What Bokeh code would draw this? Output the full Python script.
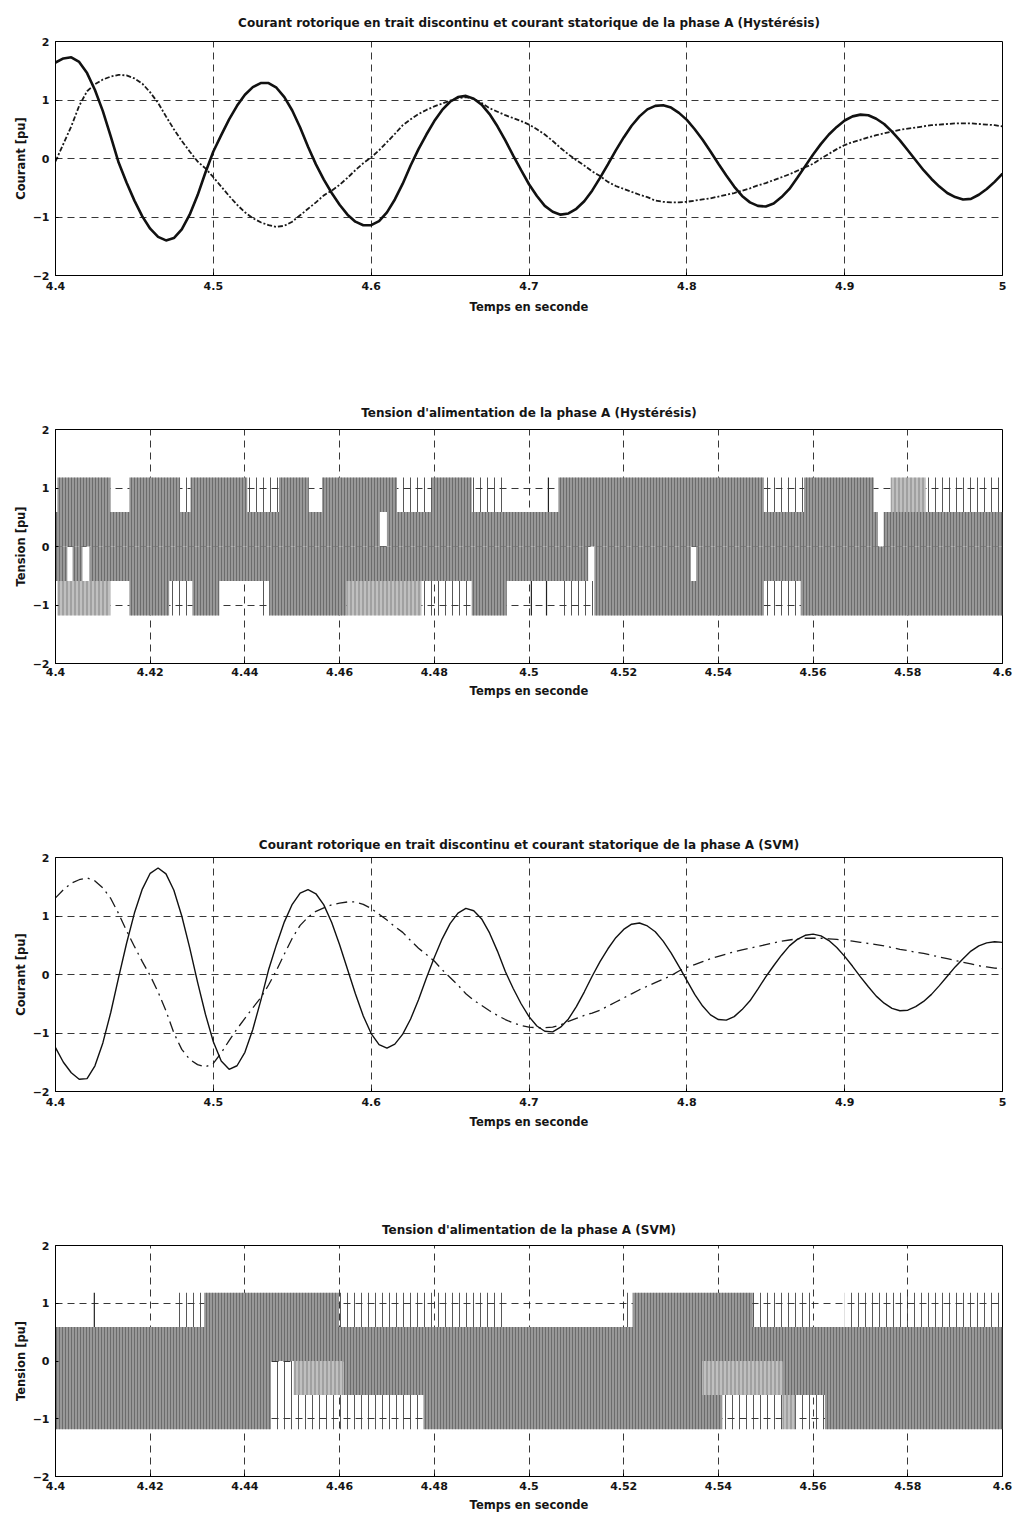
from bokeh.plotting import figure
from bokeh.layouts import column
from bokeh.models import FixedTicker, Range1d
from bokeh.embed import file_html
from bokeh.resources import INLINE

# ------------------------------------------------------------------ data
# sampling instants of the current traces (s)
t_courant = [
    4.400, 4.405, 4.410, 4.415, 4.420, 4.425, 4.430, 4.435, 4.440, 4.445,
    4.450, 4.455, 4.460, 4.465, 4.470, 4.475, 4.480, 4.485, 4.490, 4.495,
    4.500, 4.505, 4.510, 4.515, 4.520, 4.525, 4.530, 4.535, 4.540, 4.545,
    4.550, 4.555, 4.560, 4.565, 4.570, 4.575, 4.580, 4.585, 4.590, 4.595,
    4.600, 4.605, 4.610, 4.615, 4.620, 4.625, 4.630, 4.635, 4.640, 4.645,
    4.650, 4.655, 4.660, 4.665, 4.670, 4.675, 4.680, 4.685, 4.690, 4.695,
    4.700, 4.705, 4.710, 4.715, 4.720, 4.725, 4.730, 4.735, 4.740, 4.745,
    4.750, 4.755, 4.760, 4.765, 4.770, 4.775, 4.780, 4.785, 4.790, 4.795,
    4.800, 4.805, 4.810, 4.815, 4.820, 4.825, 4.830, 4.835, 4.840, 4.845,
    4.850, 4.855, 4.860, 4.865, 4.870, 4.875, 4.880, 4.885, 4.890, 4.895,
    4.900, 4.905, 4.910, 4.915, 4.920, 4.925, 4.930, 4.935, 4.940, 4.945,
    4.950, 4.955, 4.960, 4.965, 4.970, 4.975, 4.980, 4.985, 4.990, 4.995,
    5.000]

# Hysteresis: stator current (solid) and rotor current (dash-dot), pu
hyst_stator = [
    1.64, 1.71, 1.73, 1.65, 1.46, 1.17, 0.81, 0.38, -0.07, -0.41,
    -0.72, -0.99, -1.20, -1.34, -1.40, -1.36, -1.21, -0.96, -0.63, -0.24,
    0.12, 0.40, 0.67, 0.90, 1.09, 1.22, 1.29, 1.29, 1.21, 1.05,
    0.82, 0.53, 0.20, -0.10, -0.36, -0.59, -0.79, -0.96, -1.08, -1.14,
    -1.14, -1.07, -0.92, -0.70, -0.43, -0.12, 0.16, 0.41, 0.64, 0.83,
    0.97, 1.05, 1.07, 1.02, 0.92, 0.76, 0.55, 0.31, 0.05, -0.20,
    -0.44, -0.64, -0.81, -0.91, -0.96, -0.94, -0.86, -0.73, -0.55, -0.33,
    -0.10, 0.14, 0.36, 0.56, 0.72, 0.84, 0.90, 0.91, 0.87, 0.78,
    0.66, 0.50, 0.32, 0.12, -0.09, -0.29, -0.48, -0.64, -0.75, -0.81,
    -0.82, -0.77, -0.66, -0.52, -0.33, -0.13, 0.07, 0.25, 0.41, 0.54,
    0.65, 0.72, 0.75, 0.74, 0.68, 0.59, 0.46, 0.31, 0.14, -0.03,
    -0.20, -0.35, -0.48, -0.59, -0.66, -0.70, -0.69, -0.62, -0.52, -0.40,
    -0.26]
hyst_rotor = [
    -0.05, 0.25, 0.55, 0.90, 1.15, 1.27, 1.35, 1.40, 1.43, 1.42,
    1.37, 1.28, 1.13, 0.95, 0.72, 0.50, 0.30, 0.12, -0.05, -0.17,
    -0.32, -0.48, -0.64, -0.79, -0.92, -1.02, -1.09, -1.14, -1.17, -1.15,
    -1.08, -0.97, -0.86, -0.75, -0.63, -0.55, -0.45, -0.33, -0.20, -0.08,
    0.02, 0.14, 0.28, 0.42, 0.57, 0.67, 0.76, 0.83, 0.89, 0.94,
    0.99, 1.03, 1.05, 1.02, 0.95, 0.86, 0.80, 0.74, 0.69, 0.64,
    0.58, 0.50, 0.41, 0.30, 0.18, 0.07, -0.03, -0.12, -0.22, -0.30,
    -0.40, -0.47, -0.52, -0.57, -0.62, -0.66, -0.72, -0.74, -0.75, -0.75,
    -0.74, -0.72, -0.70, -0.68, -0.65, -0.62, -0.59, -0.55, -0.51, -0.46,
    -0.42, -0.37, -0.32, -0.27, -0.21, -0.15, -0.09, 0.00, 0.08, 0.16,
    0.23, 0.28, 0.32, 0.36, 0.40, 0.43, 0.46, 0.49, 0.51, 0.53,
    0.55, 0.57, 0.58, 0.59, 0.60, 0.60, 0.60, 0.59, 0.58, 0.57,
    0.55]

# SVM: stator current (solid) and rotor current (dash-dot), pu
svm_stator = [
    -1.25, -1.50, -1.68, -1.79, -1.78, -1.56, -1.17, -0.65, -0.05, 0.53,
    1.05, 1.46, 1.73, 1.82, 1.72, 1.44, 1.00, 0.46, -0.13, -0.68,
    -1.15, -1.48, -1.62, -1.56, -1.33, -0.94, -0.45, 0.08, 0.51, 0.90,
    1.20, 1.39, 1.45, 1.38, 1.19, 0.89, 0.51, 0.09, -0.33, -0.71,
    -1.01, -1.20, -1.26, -1.19, -1.02, -0.76, -0.43, -0.06, 0.29, 0.61,
    0.87, 1.05, 1.13, 1.09, 0.95, 0.71, 0.40, 0.05, -0.24, -0.50,
    -0.72, -0.88, -0.97, -0.98, -0.90, -0.76, -0.55, -0.30, -0.03, 0.22,
    0.44, 0.63, 0.77, 0.86, 0.88, 0.83, 0.73, 0.57, 0.37, 0.14,
    -0.10, -0.34, -0.54, -0.69, -0.77, -0.78, -0.72, -0.60, -0.45, -0.25,
    -0.04, 0.15, 0.33, 0.49, 0.60, 0.67, 0.69, 0.66, 0.58, 0.46,
    0.31, 0.14, -0.04, -0.21, -0.37, -0.49, -0.58, -0.62, -0.61, -0.55,
    -0.46, -0.34, -0.19, -0.03, 0.13, 0.27, 0.40, 0.49, 0.54, 0.56,
    0.55]
svm_rotor = [
    1.31, 1.45, 1.56, 1.62, 1.65, 1.60, 1.48, 1.30, 1.04, 0.75,
    0.48, 0.22, -0.02, -0.30, -0.62, -1.00, -1.28, -1.45, -1.54, -1.58,
    -1.52, -1.34, -1.13, -0.93, -0.75, -0.57, -0.40, -0.18, 0.07, 0.35,
    0.62, 0.84, 0.98, 1.08, 1.14, 1.19, 1.22, 1.24, 1.24, 1.20,
    1.13, 1.03, 0.93, 0.82, 0.72, 0.58, 0.45, 0.34, 0.23, 0.08,
    -0.05, -0.18, -0.33, -0.44, -0.53, -0.62, -0.70, -0.77, -0.83, -0.87,
    -0.90, -0.91, -0.91, -0.90, -0.86, -0.80, -0.75, -0.70, -0.66, -0.61,
    -0.54, -0.47, -0.40, -0.33, -0.26, -0.20, -0.14, -0.08, -0.02, 0.06,
    0.12, 0.17, 0.22, 0.27, 0.31, 0.35, 0.39, 0.42, 0.45, 0.48,
    0.51, 0.54, 0.57, 0.59, 0.61, 0.62, 0.62, 0.62, 0.61, 0.60,
    0.59, 0.57, 0.55, 0.53, 0.51, 0.49, 0.46, 0.43, 0.41, 0.38,
    0.36, 0.33, 0.30, 0.27, 0.24, 0.21, 0.18, 0.15, 0.13, 0.11,
    0.10]

# inverter output levels (pu)
v_levels = [-1.18, -0.59, 0.0, 0.59, 1.18]

# Hysteresis supply voltage: time spans where the trace switches inside each band
# band "haut" = 0.59..1.18, "pos" = 0..0.59, "neg" = -0.59..0, "bas" = -1.18..-0.59
hyst_haut_dense = [(4.4004, 4.4116), (4.4156, 4.4263), (4.4285, 4.4405), (4.4472, 4.4535),
                   (4.4563, 4.4721), (4.4795, 4.4879), (4.5062, 4.5496), (4.5581, 4.5728)]
hyst_haut_medium = [(4.5764, 4.5838)]
hyst_haut_sparse = [(4.4263, 4.4285), (4.4405, 4.4472), (4.4721, 4.4795), (4.4879, 4.4948),
                    (4.5496, 4.5581), (4.5838, 4.5998)]
hyst_haut_pulses = [4.5041]
hyst_pos_dense = [(4.4000, 4.4685), (4.4700, 4.5737), (4.5749, 4.6000)]
hyst_neg_dense = [(4.4000, 4.4025), (4.4036, 4.4057), (4.4072, 4.5125), (4.5138, 4.5342),
                  (4.5353, 4.6000)]
hyst_bas_dense = [(4.4156, 4.4240), (4.4289, 4.4346), (4.4451, 4.4615), (4.4879, 4.4953),
                  (4.5138, 4.5496), (4.5574, 4.6000)]
hyst_bas_medium = [(4.4004, 4.4116), (4.4615, 4.4773)]
hyst_bas_sparse = [(4.4240, 4.4289), (4.4430, 4.4451), (4.4773, 4.4879), (4.5068, 4.5138),
                   (4.5496, 4.5574)]
hyst_bas_pulses = [4.5005, 4.5037]

# SVM supply voltage
svm_haut_dense = [(4.4314, 4.4598), (4.5219, 4.5472)]
svm_haut_medium = []
svm_haut_sparse = [(4.4257, 4.4314), (4.4598, 4.4952), (4.5198, 4.5219), (4.5472, 4.5598),
                   (4.5667, 4.6000)]
svm_haut_pulses = [4.4082]
svm_pos_dense = [(4.4000, 4.6000)]
svm_neg_dense = [(4.4000, 4.4455), (4.4608, 4.5366), (4.5535, 4.6000)]
svm_neg_medium = [(4.4503, 4.4608), (4.5366, 4.5535)]
svm_neg_sparse = [(4.4455, 4.4503)]
svm_bas_dense = [(4.4000, 4.4455), (4.4777, 4.5408), (4.5625, 4.6000)]
svm_bas_medium = [(4.5535, 4.5562)]
svm_bas_sparse = [(4.4455, 4.4777), (4.5408, 4.5535), (4.5562, 4.5625)]
svm_bas_pulses = []

# axes
x_labels_courant = ["4.4", "4.5", "4.6", "4.7", "4.8", "4.9", "5"]
x_labels_tension = ["4.4", "4.42", "4.44", "4.46", "4.48", "4.5", "4.52",
                    "4.54", "4.56", "4.58", "4.6"]
y_ticks = [-2, -1, 0, 1, 2]

titles = [
    "Courant rotorique en trait discontinu et courant statorique de la phase A (Hystérésis)",
    "Tension d'alimentation de la phase A (Hystérésis)",
    "Courant rotorique en trait discontinu et courant statorique de la phase A (SVM)",
    "Tension d'alimentation de la phase A (SVM)",
]
y_labels = ["Courant [pu]", "Tension [pu]", "Courant [pu]", "Tension [pu]"]
x_label = "Temps en seconde"

# ------------------------------------------------------------------ styling helpers
FONT = "DejaVu Sans"
WIDTH = 1013
FRAME_RIGHT = 1002


def make_fig(height, page_top, frame_top, frame_bottom, frame_left, x_labels, title, ylabel,
             title_standoff=12, tick_standoff=6, xl_standoff=5):
    x_ticks = [float(s) for s in x_labels]
    p = figure(width=WIDTH, height=height, output_backend="svg", toolbar_location=None,
               x_range=Range1d(x_ticks[0], x_ticks[-1]), y_range=Range1d(-2, 2),
               min_border_left=frame_left, min_border_right=WIDTH - FRAME_RIGHT,
               min_border_top=frame_top - page_top,
               min_border_bottom=page_top + height - frame_bottom,
               title=title)
    p.background_fill_color = "white"
    p.border_fill_color = "white"
    p.outline_line_color = "black"
    p.outline_line_width = 1
    p.title.align = "center"
    p.title.text_font = FONT
    p.title.text_font_size = "12px"
    p.title.text_font_style = "bold"
    p.title.text_color = "#151515"
    p.title.standoff = title_standoff
    p.title.offset = 7

    p.xaxis.ticker = FixedTicker(ticks=x_ticks)
    p.xaxis.major_label_overrides = {v: s for v, s in zip(x_ticks, x_labels)}
    p.yaxis.ticker = FixedTicker(ticks=y_ticks)
    p.xgrid.ticker = FixedTicker(ticks=x_ticks)
    p.ygrid.ticker = FixedTicker(ticks=y_ticks)
    for ax in (p.xaxis, p.yaxis):
        ax.axis_line_color = "black"
        ax.major_tick_in = 3
        ax.major_tick_out = 0
        ax.minor_tick_in = 0
        ax.minor_tick_out = 0
        ax.major_tick_line_color = "black"
        ax.major_label_text_font = FONT
        ax.major_label_text_font_size = "11px"
        ax.major_label_text_font_style = "bold"
        ax.major_label_text_color = "#151515"
        ax.axis_label_text_font = FONT
        ax.axis_label_text_font_size = "11.5px"
        ax.axis_label_text_font_style = "bold"
        ax.axis_label_text_color = "#151515"
    p.xaxis.axis_label = x_label
    p.yaxis.axis_label = ylabel
    p.xaxis.major_label_standoff = tick_standoff
    p.xaxis.axis_label_standoff = xl_standoff
    p.yaxis.major_label_standoff = 6
    p.yaxis.axis_label_standoff = 2
    for g in (p.xgrid, p.ygrid):
        g.grid_line_color = "#222222"
        g.grid_line_dash = "7 5"
        g.grid_line_width = 1
        g.grid_line_alpha = 0.9
    return p


def draw_band(p, spans, lo, hi, kind):
    if not spans:
        return
    left = [a for a, b in spans]
    right = [b for a, b in spans]
    if kind == "dense":
        p.quad(left=left, right=right, bottom=lo, top=hi, line_color=None,
               fill_color="#989898", hatch_pattern="|", hatch_color="#3c3c3c",
               hatch_scale=3, hatch_weight=0.8, hatch_alpha=0.6)
    elif kind == "medium":
        p.quad(left=left, right=right, bottom=lo, top=hi, line_color=None,
               fill_color="#c0c0c0", hatch_pattern="|", hatch_color="#4a4a4a",
               hatch_scale=4, hatch_weight=0.8, hatch_alpha=0.65)
    else:
        p.quad(left=left, right=right, bottom=lo, top=hi, line_color=None,
               fill_alpha=0, hatch_pattern="|", hatch_color="#3a3a3a",
               hatch_scale=7, hatch_weight=1, hatch_alpha=0.85)


def draw_pulses(p, times, lo, hi):
    if times:
        p.segment(x0=times, x1=times, y0=lo, y1=hi, line_color="#222222", line_width=1.2)


# ------------------------------------------------------------------ figure 1 (page y 0..388)
p1 = make_fig(388, 0, 41, 275, 55, x_labels_courant, titles[0], y_labels[0],
              title_standoff=23, tick_standoff=6, xl_standoff=7)
p1.line(t_courant, hyst_rotor, line_color="#1a1a1a", line_width=1.8, line_dash="5 2 2 2")
p1.line(t_courant, hyst_stator, line_color="#111111", line_width=2.6)

# ------------------------------------------------------------------ figure 2 (388..820)
p2 = make_fig(432, 388, 429, 663, 53, x_labels_tension, titles[1], y_labels[1],
              title_standoff=20, tick_standoff=4, xl_standoff=5)
L = v_levels
draw_band(p2, hyst_pos_dense, L[2], L[3], "dense")
draw_band(p2, hyst_neg_dense, L[1], L[2], "dense")
draw_band(p2, hyst_haut_dense, L[3], L[4], "dense")
draw_band(p2, hyst_haut_medium, L[3], L[4], "medium")
draw_band(p2, hyst_haut_sparse, L[3], L[4], "sparse")
draw_band(p2, hyst_bas_dense, L[0], L[1], "dense")
draw_band(p2, hyst_bas_medium, L[0], L[1], "medium")
draw_band(p2, hyst_bas_sparse, L[0], L[1], "sparse")
draw_pulses(p2, hyst_haut_pulses, L[3], L[4])
draw_pulses(p2, hyst_bas_pulses, L[0], L[1])

# ------------------------------------------------------------------ figure 3 (820..1212)
p3 = make_fig(392, 820, 857, 1091, 51, x_labels_courant, titles[2], y_labels[2],
              title_standoff=12, tick_standoff=6, xl_standoff=6)
p3.line(t_courant, svm_rotor, line_color="#1a1a1a", line_width=1.3, line_dash="11 5 2 5")
p3.line(t_courant, svm_stator, line_color="#111111", line_width=1.4)

# ------------------------------------------------------------------ figure 4 (1212..1514)
p4 = make_fig(302, 1212, 1245, 1478, 51, x_labels_tension, titles[3], y_labels[3],
              title_standoff=17, tick_standoff=5, xl_standoff=5)
draw_band(p4, svm_pos_dense, L[2], L[3], "dense")
draw_band(p4, svm_neg_dense, L[1], L[2], "dense")
draw_band(p4, svm_neg_medium, L[1], L[2], "medium")
draw_band(p4, svm_neg_sparse, L[1], L[2], "sparse")
draw_band(p4, svm_haut_dense, L[3], L[4], "dense")
draw_band(p4, svm_haut_medium, L[3], L[4], "medium")
draw_band(p4, svm_haut_sparse, L[3], L[4], "sparse")
draw_band(p4, svm_bas_dense, L[0], L[1], "dense")
draw_band(p4, svm_bas_medium, L[0], L[1], "medium")
draw_band(p4, svm_bas_sparse, L[0], L[1], "sparse")
draw_pulses(p4, svm_haut_pulses, L[3], L[4])
draw_pulses(p4, svm_bas_pulses, L[0], L[1])

layout = column(p1, p2, p3, p4, spacing=0)
open("out.html", "w").write(file_html(layout, INLINE, "Courant et tension - phase A"))
